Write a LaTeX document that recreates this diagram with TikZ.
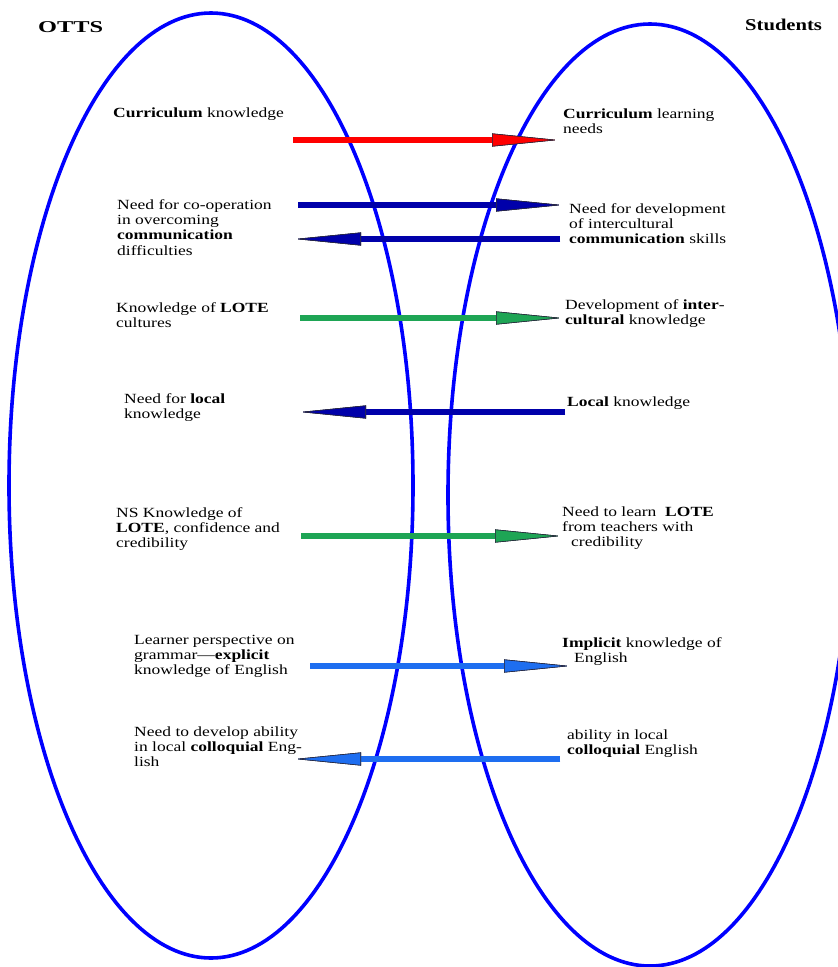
\documentclass[tikz,border=0pt]{standalone}
\usepackage{fontspec}
\setmainfont{Liberation Serif}[FakeStretch=1.25]
\usetikzlibrary{arrows.meta}
\definecolor{ellblue}{RGB}{0,0,255}
\definecolor{navyar}{RGB}{0,0,170}
\definecolor{greenar}{RGB}{30,165,85}
\definecolor{lightar}{RGB}{30,110,240}
\definecolor{redar}{RGB}{255,0,0}
\definecolor{edgecol}{RGB}{40,40,60}
\begin{document}
\begin{tikzpicture}[x=1pt,y=-1pt,
  lbl/.style={anchor=north west, inner sep=0pt, align=left, font=\fontsize{14}{15.4}\selectfont},
  head/.style={anchor=base west, inner sep=0pt, font=\fontsize{16.5}{18}\selectfont\bfseries},
  fat/.style={line width=5.5pt, draw=#1,
    -{Triangle[length=66pt,width=13pt,fill=#1,color=edgecol,line width=0.6pt]},
    preaction={draw=edgecol, line width=6.8pt}},
  ell/.style={draw=ellblue, line width=3.6pt}]
\useasboundingbox (0,0) rectangle (838,967);
\begin{scope}
  \clip (0,0) rectangle (838,967);
  \draw[ell] (211,485.5) ellipse [x radius=202, y radius=472.5];
  \draw[ell] (650,495) ellipse [x radius=202, y radius=471];
\end{scope}

\node[head] (otts) at (38,32) {\scalebox{1.18}[1]{OTTS}};
\node[head] (stud) at (745,30) {Students};

% left texts
\node[lbl] (l1) at (113,106.2) {\strut\textbf{Curriculum} knowledge};
\node[lbl] (l2) at (117,198.2) {\strut Need for co-operation\\in overcoming\\\textbf{communication}\\difficulties};
\node[lbl] (l3) at (116,301.2) {\strut Knowledge of \textbf{LOTE}\\cultures};
\node[lbl] (l4) at (124,392.2) {\strut Need for \textbf{local}\\knowledge};
\node[lbl] (l5) at (116,506.2) {\strut NS Knowledge of\\\textbf{LOTE}, confidence and\\credibility};
\node[lbl] (l6) at (134,633.2) {\strut Learner perspective on\\grammar---\textbf{explicit}\\knowledge of English};
\node[lbl] (l7) at (134,725.2) {\strut Need to develop ability\\in local \textbf{colloquial} Eng-\\lish};

% right texts
\node[lbl] (r1) at (563,107.2) {\strut\textbf{Curriculum} learning\\needs};
\node[lbl] (r2) at (569,202.2) {\strut Need for development\\of intercultural\\\textbf{communication} skills};
\node[lbl] (r3) at (565,298.2) {\strut Development of \textbf{inter}-\\\textbf{cultural} knowledge};
\node[lbl] (r4) at (567,395.2) {\strut\textbf{Local} knowledge};
\node[lbl] (r5) at (562,505.2) {\strut Need to learn\ \ \textbf{LOTE}\\from teachers with\\\hspace*{9pt}credibility};
\node[lbl] (r6) at (562,636.2) {\strut\textbf{Implicit} knowledge of\\\hspace*{12pt}English};
\node[lbl] (r7) at (567,728.2) {\strut ability in local\\\textbf{colloquial} English};

% arrow end points
\coordinate (a1s) at (293,140); \coordinate (a1e) at (558,140);
\coordinate (a2s) at (298,205); \coordinate (a2e) at (562,205);
\coordinate (a3s) at (560,239); \coordinate (a3e) at (295,239);
\coordinate (a4s) at (300,318); \coordinate (a4e) at (562,318);
\coordinate (a5s) at (565,412); \coordinate (a5e) at (300,412);
\coordinate (a6s) at (301,536); \coordinate (a6e) at (561,536);
\coordinate (a7s) at (310,666); \coordinate (a7e) at (570,666);
\coordinate (a8s) at (560,759); \coordinate (a8e) at (295,759);

\draw[fat=redar] (a1s) -- (a1e);
\draw[fat=navyar] (a2s) -- (a2e);
\draw[fat=navyar] (a3s) -- (a3e);
\draw[fat=greenar] (a4s) -- (a4e);
\draw[fat=navyar] (a5s) -- (a5e);
\draw[fat=greenar] (a6s) -- (a6e);
\draw[fat=lightar] (a7s) -- (a7e);
\draw[fat=lightar] (a8s) -- (a8e);
\end{tikzpicture}
\end{document}
